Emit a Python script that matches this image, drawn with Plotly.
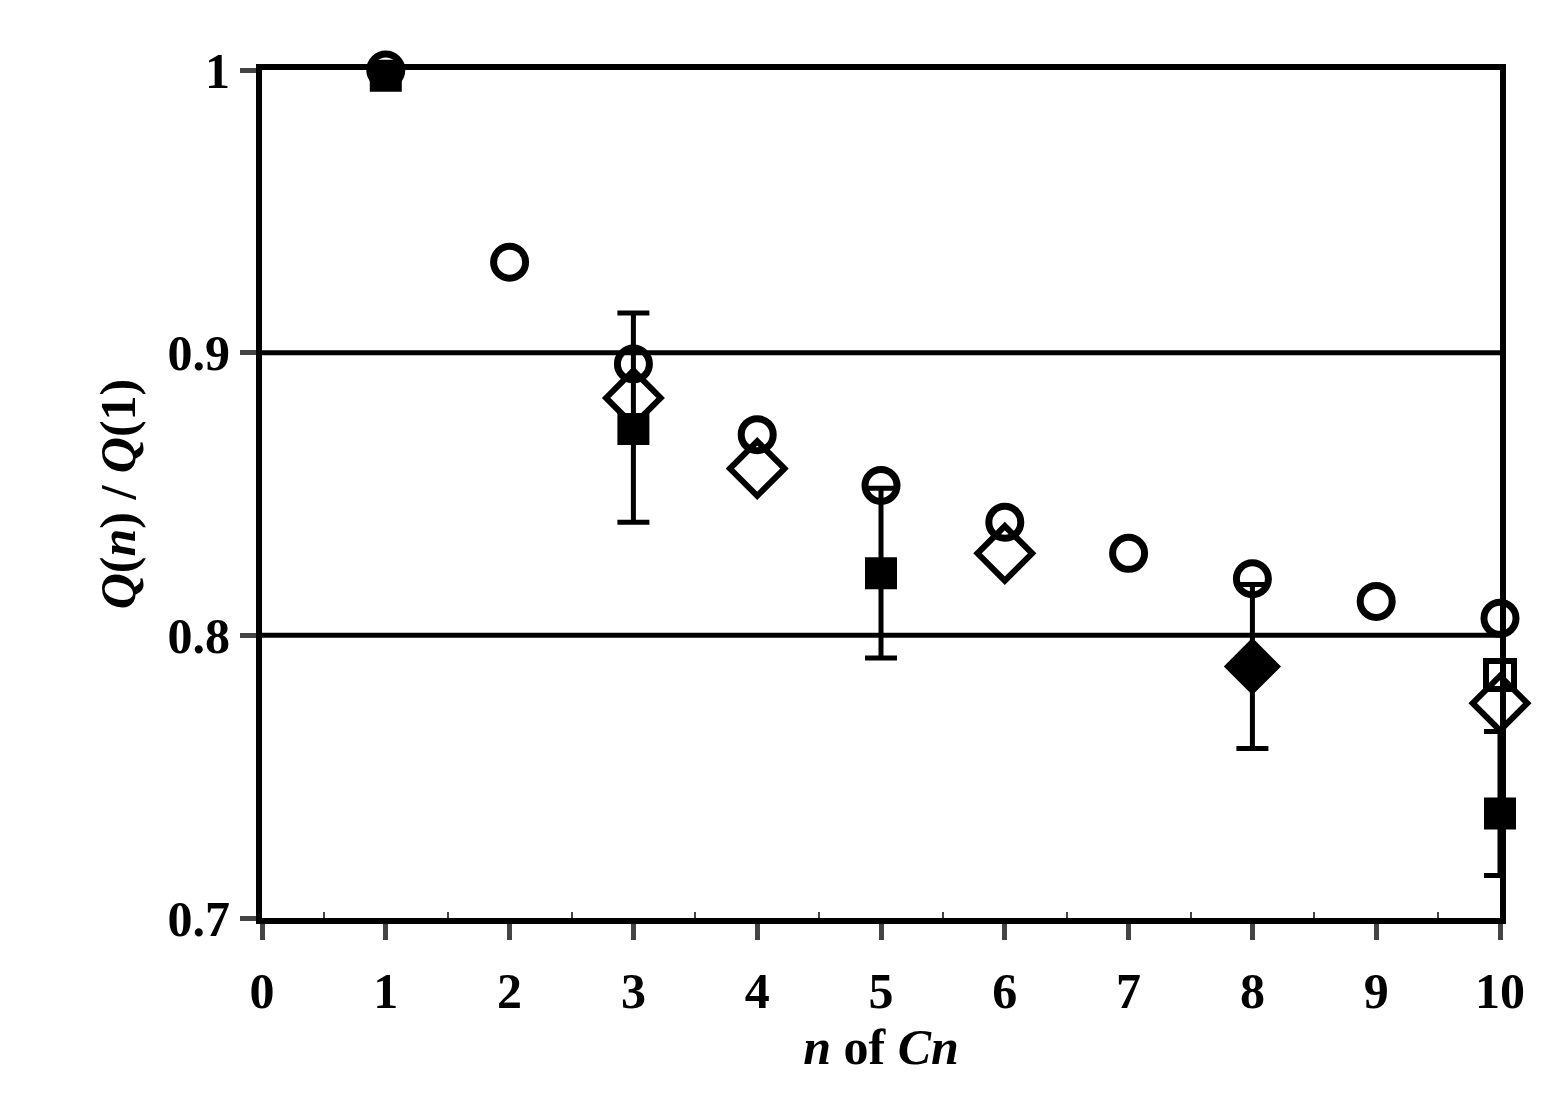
import plotly.graph_objects as go

circ_x = [1, 2, 3, 4, 5, 6, 7, 8, 9, 10]
circ_y = [1.0, 0.932, 0.896, 0.871, 0.853, 0.840, 0.829, 0.820, 0.812, 0.806]
odia_x = [3, 4, 6, 10]
odia_y = [0.884, 0.859, 0.829, 0.776]
osq_x = [10]
osq_y = [0.786]
sq_x = [1, 3, 5, 10]
sq_y = [0.998, 0.873, 0.822, 0.737]
sq_up = [0, 0.041, 0.030, 0.029]
sq_dn = [0, 0.033, 0.030, 0.022]
fdia_x = [8]
fdia_y = [0.789]
fdia_up = [0.029]
fdia_dn = [0.029]

F = dict(family="Liberation Serif", color="black")
fig = go.Figure()
for y in [0.8, 0.9]:
    fig.add_shape(type="line", xref="paper", x0=0, x1=1, y0=y, y1=y, line=dict(color="black", width=5))
eb = dict(type="data", symmetric=False, color="black", thickness=5, width=16)
fig.add_trace(go.Scatter(x=sq_x, y=sq_y, mode="markers", cliponaxis=False,
    marker=dict(symbol="square", size=32, color="black"),
    error_y=dict(array=sq_up, arrayminus=sq_dn, **eb)))
fig.add_trace(go.Scatter(x=fdia_x, y=fdia_y, mode="markers", cliponaxis=False,
    marker=dict(symbol="diamond", size=44, color="black"),
    error_y=dict(array=fdia_up, arrayminus=fdia_dn, **eb)))
fig.add_trace(go.Scatter(x=osq_x, y=osq_y, mode="markers", cliponaxis=False,
    marker=dict(symbol="square-open", size=28, color="black", line=dict(width=6))))
fig.add_trace(go.Scatter(x=odia_x, y=odia_y, mode="markers", cliponaxis=False,
    marker=dict(symbol="diamond-open", size=42, color="black", line=dict(width=6))))
fig.add_trace(go.Scatter(x=circ_x, y=circ_y, mode="markers", cliponaxis=False,
    marker=dict(symbol="circle-open", size=32, color="black", line=dict(width=7))))

TF = dict(family="Liberation Serif", size=50, color="black", weight="bold")
fig.update_layout(
    width=1561, height=1115, showlegend=False,
    plot_bgcolor="white", paper_bgcolor="white",
    margin=dict(l=254, r=69, t=62, b=205),
    xaxis=dict(range=[0, 10], tickvals=list(range(11)), ticks="outside", ticklen=16, tickwidth=5,
               showgrid=False, zeroline=False, showline=True, linewidth=6, linecolor="black", mirror=True,
               tickfont=TF, ticklabelstandoff=8,
               minor=dict(tickvals=[i + 0.5 for i in range(10)], ticks="inside", ticklen=6, tickwidth=2),
               title=dict(text="<b><i>n</i> of <i>Cn</i></b>", font=dict(size=50, **F), standoff=12)),
    yaxis=dict(range=[0.7, 1.0], tickvals=[0.7, 0.8, 0.9, 1.0], ticktext=["0.7", "0.8", "0.9", "1"],
               ticks="outside", ticklen=16, tickwidth=5,
               showgrid=False, zeroline=False, showline=True, linewidth=6, linecolor="black", mirror=True,
               tickfont=TF,
               title=dict(text="<b><i>Q</i>(<i>n</i>) / <i>Q</i>(1)</b>", font=dict(size=50, **F), standoff=18)),
)
fig.write_html("out.html")
